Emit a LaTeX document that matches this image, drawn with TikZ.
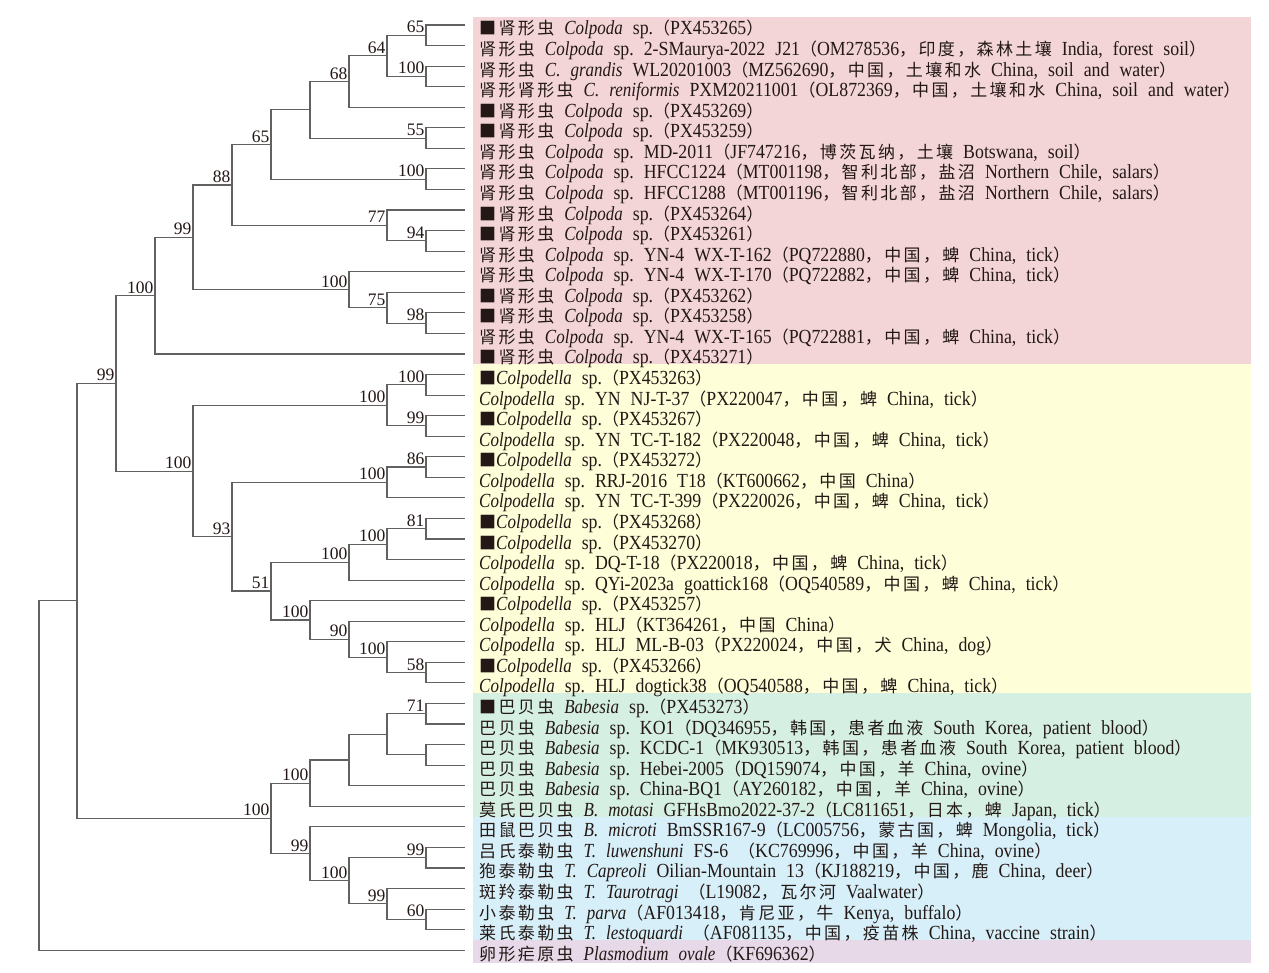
\documentclass[tikz,border=0pt]{standalone}
\usepackage{fontspec}
\usetikzlibrary{calc}
\setmainfont{Liberation Serif}
\newfontfamily\labrm{Liberation Serif}[FakeStretch=0.89]
\newfontfamily\labit{Liberation Serif}[FakeStretch=0.85]
\newfontfamily\cjk{Noto Sans CJK SC}[LetterSpace=14]
\newcommand\zh[1]{{\cjk\fontsize{17}{20}\selectfont #1}}
\newcommand\sci[1]{{\labit\itshape #1}}
\newcommand\labfont{\labrm\fontsize{20}{22}\selectfont\frenchspacing\spaceskip=10pt\relax}
\definecolor{bgpink}{HTML}{F3D5D8}
\definecolor{bgyel}{HTML}{FEFED9}
\definecolor{bggrn}{HTML}{D5F0E2}
\definecolor{bgblu}{HTML}{D6EFF9}
\definecolor{bgpur}{HTML}{E8D9E9}
\definecolor{ink}{HTML}{231815}
\tikzset{
  br/.style={draw=black!62, line width=1.1pt},
  bs/.style={font=\fontsize{17.5}{18}\selectfont, inner sep=0pt, anchor=base east, xshift=-1.5pt, yshift=2.5pt, text=ink},
  lab/.style={font=\labfont, inner sep=0pt, anchor=base west, text=ink},
}
\newcommand\leaf[2]{\node[lab] (t#1) at (479,{35+20.56*#1}) {#2};}
\newcommand\clade[4]{%
  \path let \p1=(#3), \p2=(#4) in coordinate (#1) at (#2pt,{0.5*\y1+0.5*\y2});
  \draw[br] (#1) |- (#3);
  \draw[br] (#1) |- (#4);}
\newcommand\bsl[2]{\node[bs] (s#1) at (#1) {#2};}
\begin{document}
\begin{tikzpicture}[x=1pt,y=-1pt]
\fill[white] (0,0) rectangle (1269,973);
\useasboundingbox (0,0) rectangle (1269,973);
% background bands
\fill[bgpink] (473,17) rectangle (1251,364.2);
\fill[bgyel] (473,364.2) rectangle (1251,693.2);
\fill[bggrn] (473,693.2) rectangle (1251,816.6);
\fill[bgblu] (473,816.6) rectangle (1251,939.9);
\fill[bgpur] (473,939.9) rectangle (1251,963);
% leaf tips
\foreach \i in {0,...,45}{\coordinate (l\i) at (465,{25+20.56*\i});}
% pink clade
\clade{a1}{426}{l0}{l1}\bsl{a1}{65}
\clade{a2}{426}{l2}{l3}\bsl{a2}{100}
\clade{a3}{387}{a1}{a2}\bsl{a3}{64}
\clade{a4}{349}{a3}{l4}\bsl{a4}{68}
\clade{a5}{426}{l5}{l6}\bsl{a5}{55}
\clade{a6}{310}{a4}{a5}
\clade{a7}{426}{l7}{l8}\bsl{a7}{100}
\clade{a8}{271}{a6}{a7}\bsl{a8}{65}
\clade{a9}{426}{l10}{l11}\bsl{a9}{94}
\clade{a10}{387}{l9}{a9}\bsl{a10}{77}
\clade{a11}{232}{a8}{a10}\bsl{a11}{88}
\clade{a12}{426}{l14}{l15}\bsl{a12}{98}
\clade{a13}{387}{l13}{a12}\bsl{a13}{75}
\clade{a14}{349}{l12}{a13}\bsl{a14}{100}
\clade{a15}{193}{a11}{a14}\bsl{a15}{99}
\clade{a16}{155}{a15}{l16}\bsl{a16}{100}
% yellow clade
\clade{b1}{426}{l17}{l18}\bsl{b1}{100}
\clade{b2}{426}{l19}{l20}\bsl{b2}{99}
\clade{b3}{387}{b1}{b2}\bsl{b3}{100}
\clade{b4}{426}{l21}{l22}\bsl{b4}{86}
\clade{b5}{387}{b4}{l23}\bsl{b5}{100}
\clade{b6}{426}{l24}{l25}\bsl{b6}{81}
\clade{b7}{387}{b6}{l26}\bsl{b7}{100}
\clade{b8}{349}{b7}{l27}\bsl{b8}{100}
\clade{b9}{426}{l31}{l32}\bsl{b9}{58}
\clade{b10}{387}{l30}{b9}\bsl{b10}{100}
\clade{b11}{349}{l29}{b10}\bsl{b11}{90}
\clade{b12}{310}{l28}{b11}\bsl{b12}{100}
\clade{b13}{271}{b8}{b12}\bsl{b13}{51}
\clade{b14}{232}{b5}{b13}\bsl{b14}{93}
\clade{b15}{193}{b3}{b14}\bsl{b15}{100}
\clade{r1}{116}{a16}{b15}\bsl{r1}{99}
% green clade
\clade{c1}{426}{l33}{l34}\bsl{c1}{71}
\clade{c2}{426}{l35}{l36}
\clade{c3}{387}{c1}{c2}
\clade{c4}{349}{c3}{l37}
\clade{c5}{310}{c4}{l38}\bsl{c5}{100}
% blue clade
\clade{d1}{426}{l40}{l41}\bsl{d1}{99}
\clade{d2}{426}{l43}{l44}\bsl{d2}{60}
\clade{d3}{387}{l42}{d2}\bsl{d3}{99}
\clade{d4}{349}{d1}{d3}\bsl{d4}{100}
\clade{d5}{310}{l39}{d4}\bsl{d5}{99}
\clade{c6}{271}{c5}{d5}\bsl{c6}{100}
\clade{r2}{77}{r1}{c6}
\clade{r3}{39}{r2}{l45}
% leaf labels
\leaf{0}{\zh{■肾形虫} \sci{Colpoda} sp.\zh{（}PX453265\zh{）}}
\leaf{1}{\zh{肾形虫} \sci{Colpoda} sp. 2-SMaurya-2022 J21\zh{（}OM278536\zh{，印度，森林土壤} India, forest soil\zh{）}}
\leaf{2}{\zh{肾形虫} \sci{C. grandis} WL20201003\zh{（}MZ562690\zh{，中国，土壤和水} China, soil and water\zh{）}}
\leaf{3}{\zh{肾形肾形虫} \sci{C. reniformis} PXM20211001\zh{（}OL872369\zh{，中国，土壤和水} China, soil and water\zh{）}}
\leaf{4}{\zh{■肾形虫} \sci{Colpoda} sp.\zh{（}PX453269\zh{）}}
\leaf{5}{\zh{■肾形虫} \sci{Colpoda} sp.\zh{（}PX453259\zh{）}}
\leaf{6}{\zh{肾形虫} \sci{Colpoda} sp. MD-2011\zh{（}JF747216\zh{，博茨瓦纳，土壤} Botswana, soil\zh{）}}
\leaf{7}{\zh{肾形虫} \sci{Colpoda} sp. HFCC1224\zh{（}MT001198\zh{，智利北部，盐沼} Northern Chile, salars\zh{）}}
\leaf{8}{\zh{肾形虫} \sci{Colpoda} sp. HFCC1288\zh{（}MT001196\zh{，智利北部，盐沼} Northern Chile, salars\zh{）}}
\leaf{9}{\zh{■肾形虫} \sci{Colpoda} sp.\zh{（}PX453264\zh{）}}
\leaf{10}{\zh{■肾形虫} \sci{Colpoda} sp.\zh{（}PX453261\zh{）}}
\leaf{11}{\zh{肾形虫} \sci{Colpoda} sp. YN-4 WX-T-162\zh{（}PQ722880\zh{，中国，蜱} China, tick\zh{）}}
\leaf{12}{\zh{肾形虫} \sci{Colpoda} sp. YN-4 WX-T-170\zh{（}PQ722882\zh{，中国，蜱} China, tick\zh{）}}
\leaf{13}{\zh{■肾形虫} \sci{Colpoda} sp.\zh{（}PX453262\zh{）}}
\leaf{14}{\zh{■肾形虫} \sci{Colpoda} sp.\zh{（}PX453258\zh{）}}
\leaf{15}{\zh{肾形虫} \sci{Colpoda} sp. YN-4 WX-T-165\zh{（}PQ722881\zh{，中国，蜱} China, tick\zh{）}}
\leaf{16}{\zh{■肾形虫} \sci{Colpoda} sp.\zh{（}PX453271\zh{）}}
\leaf{17}{\zh{■}\sci{Colpodella} sp.\zh{（}PX453263\zh{）}}
\leaf{18}{\sci{Colpodella} sp. YN NJ-T-37\zh{（}PX220047\zh{，中国，蜱} China, tick\zh{）}}
\leaf{19}{\zh{■}\sci{Colpodella} sp.\zh{（}PX453267\zh{）}}
\leaf{20}{\sci{Colpodella} sp. YN TC-T-182\zh{（}PX220048\zh{，中国，蜱} China, tick\zh{）}}
\leaf{21}{\zh{■}\sci{Colpodella} sp.\zh{（}PX453272\zh{）}}
\leaf{22}{\sci{Colpodella} sp. RRJ-2016 T18\zh{（}KT600662\zh{，中国} China\zh{）}}
\leaf{23}{\sci{Colpodella} sp. YN TC-T-399\zh{（}PX220026\zh{，中国，蜱} China, tick\zh{）}}
\leaf{24}{\zh{■}\sci{Colpodella} sp.\zh{（}PX453268\zh{）}}
\leaf{25}{\zh{■}\sci{Colpodella} sp.\zh{（}PX453270\zh{）}}
\leaf{26}{\sci{Colpodella} sp. DQ-T-18\zh{（}PX220018\zh{，中国，蜱} China, tick\zh{）}}
\leaf{27}{\sci{Colpodella} sp. QYi-2023a goattick168\zh{（}OQ540589\zh{，中国，蜱} China, tick\zh{）}}
\leaf{28}{\zh{■}\sci{Colpodella} sp.\zh{（}PX453257\zh{）}}
\leaf{29}{\sci{Colpodella} sp. HLJ\zh{（}KT364261\zh{，中国} China\zh{）}}
\leaf{30}{\sci{Colpodella} sp. HLJ ML-B-03\zh{（}PX220024\zh{，中国，犬} China, dog\zh{）}}
\leaf{31}{\zh{■}\sci{Colpodella} sp.\zh{（}PX453266\zh{）}}
\leaf{32}{\sci{Colpodella} sp. HLJ dogtick38\zh{（}OQ540588\zh{，中国，蜱} China, tick\zh{）}}
\leaf{33}{\zh{■巴贝虫} \sci{Babesia} sp.\zh{（}PX453273\zh{）}}
\leaf{34}{\zh{巴贝虫} \sci{Babesia} sp. KO1\zh{（}DQ346955\zh{，韩国，患者血液} South Korea, patient blood\zh{）}}
\leaf{35}{\zh{巴贝虫} \sci{Babesia} sp. KCDC-1\zh{（}MK930513\zh{，韩国，患者血液} South Korea, patient blood\zh{）}}
\leaf{36}{\zh{巴贝虫} \sci{Babesia} sp. Hebei-2005\zh{（}DQ159074\zh{，中国，羊} China, ovine\zh{）}}
\leaf{37}{\zh{巴贝虫} \sci{Babesia} sp. China-BQ1\zh{（}AY260182\zh{，中国，羊} China, ovine\zh{）}}
\leaf{38}{\zh{莫氏巴贝虫} \sci{B. motasi} GFHsBmo2022-37-2\zh{（}LC811651\zh{，日本，蜱} Japan, tick\zh{）}}
\leaf{39}{\zh{田鼠巴贝虫} \sci{B. microti} BmSSR167-9\zh{（}LC005756\zh{，蒙古国，蜱} Mongolia, tick\zh{）}}
\leaf{40}{\zh{吕氏泰勒虫} \sci{T. luwenshuni} FS-6 \zh{（}KC769996\zh{，中国，羊} China, ovine\zh{）}}
\leaf{41}{\zh{狍泰勒虫} \sci{T. Capreoli} Oilian-Mountain 13\zh{（}KJ188219\zh{，中国，鹿} China, deer\zh{）}}
\leaf{42}{\zh{斑羚泰勒虫} \sci{T. Taurotragi} \zh{（}L19082\zh{，瓦尔河} Vaalwater\zh{）}}
\leaf{43}{\zh{小泰勒虫} \sci{T. parva}\zh{（}AF013418\zh{，肯尼亚，牛} Kenya, buffalo\zh{）}}
\leaf{44}{\zh{莱氏泰勒虫} \sci{T. lestoquardi} \zh{（}AF081135\zh{，中国，疫苗株} China, vaccine strain\zh{）}}
\leaf{45}{\zh{卵形疟原虫} \sci{Plasmodium ovale}\zh{（}KF696362\zh{）}}
\end{tikzpicture}
\end{document}
